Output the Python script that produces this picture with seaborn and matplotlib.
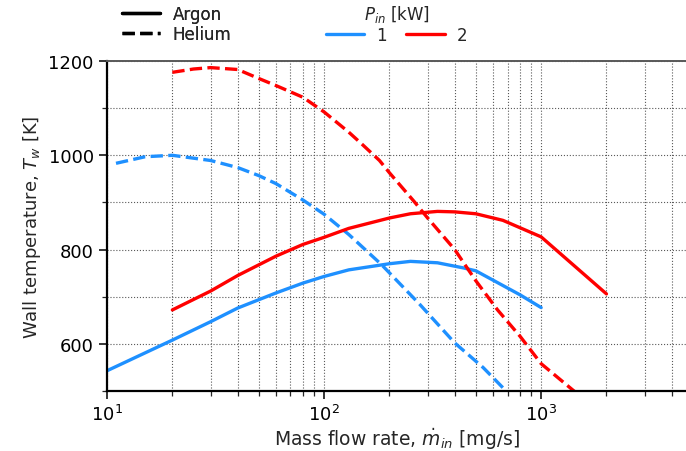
import numpy as np
import pandas as pd
import matplotlib
matplotlib.use("Agg")
import matplotlib.pyplot as plt
import seaborn as sns
from matplotlib.lines import Line2D
from matplotlib.ticker import MultipleLocator

# ---------------- DATA ----------------

argon_1kw_x = [10, 20, 30, 40, 60, 80, 100, 130, 200, 250, 333, 440, 500, 800, 1000]
argon_1kw_t = [543, 608, 647, 676, 708, 729, 743, 757, 770, 775, 772, 761, 755, 704, 677]

argon_2kw_x = [20, 30, 40, 60, 80, 100, 130, 200, 250, 333, 400, 500, 667, 1000, 2000]
argon_2kw_t = [672, 712, 745, 786, 811, 826, 845, 867, 876, 881, 880, 876, 862, 827, 706]

helium_1kw_x = [11, 15, 20, 30, 40, 50, 60, 80, 100, 130, 184, 277, 400, 540, 700, 1000]
helium_1kw_t = [983, 997, 1000, 989, 974, 957, 940, 905, 875, 832, 768, 683, 602, 550, 497, 430]

helium_2kw_x = [20, 25, 30, 40, 50, 60, 80, 100, 130, 150, 180, 200, 260, 300, 400,
                500, 630, 800, 1000, 1400, 2000]
helium_2kw_t = [1176, 1183, 1186, 1182, 1163, 1148, 1123, 1092, 1049, 1023, 989, 963, 902,
                867, 800, 734, 672, 616, 558, 502, 445]

gases = ["Argon", "Helium"]
powers = ["1", "2"]
power_colors = {"1": "#1E90FF", "2": "#FF0000"}
gas_dashes = {"Argon": "", "Helium": (3.7, 1.6)}


def main():

    frames = []
    for gas, power, xs, ts in [
        ("Argon", "1", argon_1kw_x, argon_1kw_t),
        ("Argon", "2", argon_2kw_x, argon_2kw_t),
        ("Helium", "1", helium_1kw_x, helium_1kw_t),
        ("Helium", "2", helium_2kw_x, helium_2kw_t),
    ]:
        frames.append(pd.DataFrame({"mdot": xs, "Tw": ts, "gas": gas, "power": power}))
    df = pd.concat(frames, ignore_index=True)

    sns.set_style("ticks")
    plt.rcParams["font.family"] = ["DejaVu Sans"]
    plt.rcParams["mathtext.fontset"] = "dejavusans"

    fig = plt.figure(figsize=(6.86, 4.52), dpi=100)
    ax = fig.add_axes([0.156, 0.1327, 0.844, 0.7301])

    sns.lineplot(
        data=df,
        x="mdot",
        y="Tw",
        hue="power",
        style="gas",
        palette=power_colors,
        dashes=gas_dashes,
        linewidth=2.4,
        legend=False,
        sort=True,
        estimator=None,
        ax=ax,
    )

    ax.set_xscale("log")
    ax.set_xlim(10, 4650)
    ax.set_ylim(500, 1200)
    ax.yaxis.set_major_locator(MultipleLocator(200))
    ax.yaxis.set_minor_locator(MultipleLocator(100))

    ax.grid(True, which="both", ls=":", color="0.35", lw=0.8)
    ax.set_axisbelow(True)

    for side in ["left", "bottom"]:
        ax.spines[side].set_linewidth(1.6)
        ax.spines[side].set_color("black")
    ax.spines["top"].set_color("0.35")
    ax.spines["top"].set_linewidth(1.4)
    ax.spines["right"].set_visible(False)

    ax.tick_params(which="major", labelsize=13, length=6, width=1.1, colors="black")
    ax.tick_params(which="minor", length=3.5, width=0.9)

    ax.set_xlabel(r"Mass flow rate, $\dot{m}_{in}$ [mg/s]", fontsize=13.5, labelpad=1)
    ax.set_ylabel(r"Wall temperature, $T_w$ [K]", fontsize=13, labelpad=4)

    # ---------------- LEGENDS ----------------

    gas_handles = [
        Line2D([], [], color="black", lw=2.4, ls="-"),
        Line2D([], [], color="black", lw=2.4, dashes=(3.7, 1.6)),
    ]
    leg1 = fig.legend(
        gas_handles, gases,
        loc="upper left", bbox_to_anchor=(0.156, 1.02),
        frameon=False, fontsize=12, handlelength=2.3,
        labelspacing=0.1, handletextpad=0.75,
    )

    power_handles = [Line2D([], [], color=power_colors[p], lw=2.4) for p in powers]
    fig.legend(
        power_handles, powers,
        title=r"$P_{in}$ [kW]", title_fontsize=12,
        loc="upper left", bbox_to_anchor=(0.453, 1.024),
        ncol=2, frameon=False, fontsize=12, handlelength=2.3,
        columnspacing=1.15, handletextpad=0.75, labelspacing=0.1,
    )
    fig.add_artist(leg1)

    plt.savefig("out.png", dpi=100)


if __name__ == "__main__":
    main()
